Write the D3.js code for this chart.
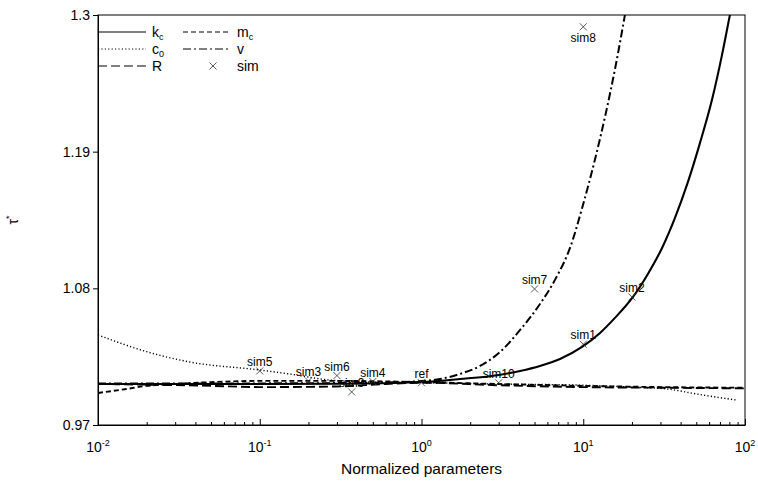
<!DOCTYPE html>
<html>
<head>
<meta charset="utf-8">
<script src="https://cdn.jsdelivr.net/npm/d3@7"></script>
<style>
body { margin: 0; background: #fff; }
text { font-family: "Liberation Sans", Arial, Helvetica, sans-serif; fill: #000; }
</style>
</head>
<body>
<svg id="chart"></svg>
<script>
// curves: [normalized parameter, tau*]
let kc = [[0.01,1.003],[0.1,1.003],[0.3,1.0032],[1,1.0046],[1.73,1.007],[3.01,1.0103],[4.07,1.0135],[5.4,1.0175],[7.18,1.0231],[9.83,1.0328],[12.7,1.0441],[15.7,1.0562],[20.3,1.0731],[25.1,1.0916],[30.7,1.1125],[36.9,1.1367],[44.4,1.1657],[52.7,1.1971],[62.5,1.2317],[72.1,1.2679],[80.7,1.3001],[88,1.324]]
let mc = [[0.01,0.9958],[0.015,0.999],[0.02,1.0015],[0.03,1.003],[0.05,1.0045],[0.1,1.0055],[0.3,1.0055],[1,1.0045],[3,1.003],[10,1.0015],[30,1.0005],[100,1.0]]
let c0 = [[0.01,1.0425],[0.02,1.029],[0.037,1.0207],[0.1,1.0143],[0.154,1.011],[0.27,1.0062],[0.5,1.0045],[1,1.004],[3,1.003],[10,1.002],[20,1.0005],[33,0.999],[50,0.995],[70,0.992],[90,0.990]]
let vv = [[0.01,1.0035],[0.1,1.0035],[0.5,1.004],[1,1.0054],[1.3,1.007],[1.73,1.0111],[2.3,1.0175],[3.06,1.0288],[4.07,1.0465],[5.4,1.0674],[6.79,1.0884],[8.28,1.1125],[9.96,1.1471],[11.8,1.1834],[13.8,1.2212],[15.9,1.2599],[18.1,1.3001],[19.7,1.328]]
let rr = [[0.01,1.003],[0.05,1.0015],[0.1,1.0005],[0.3,1.001],[0.6,1.003],[1,1.004],[3,1.002],[10,1.0005],[30,1.0],[100,0.9995]]

let simNames = ['sim1','sim2','sim3','sim4','sim5','sim6','sim7','sim8','sim9','sim10','ref']
let simX = [10, 20, 0.2, 0.5, 0.1, 0.3, 5, 10, 0.37, 3, 1]
let simY = [1.035, 1.073, 1.0054, 1.005, 1.0135, 1.0098, 1.0795, 1.2905, 0.9966, 1.004, 1.004]

let yTicks = [0.97, 1.08, 1.19, 1.3]
let xTicks = [0.01, 0.1, 1, 10, 100]
let xTickExp = ['-2', '-1', '0', '1', '2']

let width = 758, height = 481
let margin = {top: 15, right: 13, bottom: 56, left: 98}

const svg = d3.select('#chart')
    .attr('width', width)
    .attr('height', height)

let x = d3.scaleLog().domain([0.01, 100]).range([margin.left, width - margin.right])
let y = d3.scaleLinear().domain([0.97, 1.3]).range([height - margin.bottom, margin.top])

svg.append('defs').append('clipPath').attr('id', 'plot')
    .append('rect')
    .attr('x', x.range()[0]).attr('y', y.range()[1])
    .attr('width', x.range()[1] - x.range()[0])
    .attr('height', y.range()[0] - y.range()[1])

// frame
svg.append('rect')
    .attr('x', x.range()[0]).attr('y', y.range()[1])
    .attr('width', x.range()[1] - x.range()[0])
    .attr('height', y.range()[0] - y.range()[1])
    .attr('fill', 'none')
    .attr('stroke', '#000')
    .attr('stroke-width', 1)

// y axis, ticks outward
let yAxis = svg.append('g')
    .attr('transform', `translate(${x.range()[0]},0)`)
    .call(d3.axisLeft(y).tickValues(yTicks).tickSize(5).tickPadding(3).tickFormat(d => String(+d.toFixed(2))))
yAxis.select('.domain').attr('stroke', '#000')
yAxis.selectAll('text').style('font-size', '14px').attr('font-family', null)

// x axis, ticks inward
let xAxis = svg.append('g')
    .attr('transform', `translate(0,${y.range()[0]})`)
    .call(d3.axisBottom(x).tickSizeInner(-3).tickSizeOuter(0).tickFormat(''))
xAxis.selectAll('.tick line')
    .attr('y2', d => xTicks.some(t => Math.abs(t - d) < 1e-9) ? -6 : -3)
xAxis.select('.domain').attr('stroke', '#000')

let xl = svg.append('g')
xTicks.forEach((t, i) => {
    let tx = xl.append('text')
        .attr('x', x(t))
        .attr('y', y.range()[0] + 27)
        .attr('text-anchor', 'middle')
        .style('font-size', '14px')
    tx.append('tspan').text('10')
    tx.append('tspan').attr('dy', -6).style('font-size', '9px').text(xTickExp[i])
})

svg.append('text')
    .attr('x', (x.range()[0] + x.range()[1]) / 2)
    .attr('y', 474)
    .attr('text-anchor', 'middle')
    .style('font-size', '15.5px')
    .text('Normalized parameters')

let ylab = svg.append('text')
    .attr('transform', `translate(18,220) rotate(-90)`)
    .attr('text-anchor', 'middle')
    .style('font-size', '14px')
ylab.append('tspan').text('τ')
ylab.append('tspan').attr('dy', -6).style('font-size', '9px').text('*')

// curves
let line = d3.line()
    .x(d => x(d[0]))
    .y(d => y(d[1]))
    .curve(d3.curveMonotoneX)

let series = [
    {data: c0, dash: '1.2,2.2', w: 1.4},
    {data: rr, dash: '9,4', w: 1.9},
    {data: mc, dash: '5,3', w: 1.9},
    {data: vv, dash: '8,3,2,3', w: 2},
    {data: kc, dash: null, w: 2.1}
]
let curves = svg.append('g').attr('clip-path', 'url(#plot)')
series.forEach(s => {
    curves.append('path')
        .datum(s.data)
        .attr('d', line)
        .attr('fill', 'none')
        .attr('stroke', '#000')
        .attr('stroke-width', s.w)
        .attr('stroke-dasharray', s.dash)
})

// simulation points
let sims = svg.append('g')
simNames.forEach((name, i) => {
    let px = x(simX[i]), py = y(simY[i])
    sims.append('path')
        .attr('d', `M${px-3.5},${py-3.5}L${px+3.5},${py+3.5}M${px-3.5},${py+3.5}L${px+3.5},${py-3.5}`)
        .attr('stroke', '#333')
        .attr('stroke-width', 0.8)
    sims.append('text')
        .attr('x', px)
        .attr('y', name == 'sim8' ? py + 15 : py - 5)
        .attr('text-anchor', 'middle')
        .style('font-size', '12px')
        .text(name)
})

// legend
let legend = [
    {main: 'k', sub: 'c', dash: null, col: 0, row: 0},
    {main: 'm', sub: 'c', dash: '5,3', col: 1, row: 0},
    {main: 'c', sub: '0', dash: '1.2,2.2', col: 0, row: 1},
    {main: 'v', sub: '', dash: '8,3,2,3', col: 1, row: 1},
    {main: 'R', sub: '', dash: '9,4', col: 0, row: 2},
    {main: 'sim', sub: '', dash: 'marker', col: 1, row: 2}
]
let lg = svg.append('g')
legend.forEach(d => {
    let lx = x.range()[0] + d.col * 85
    let ly = 32 + d.row * 17
    if (d.dash == 'marker') {
        let mx = lx + 30
        lg.append('path')
            .attr('d', `M${mx-3.5},${ly-3.5}L${mx+3.5},${ly+3.5}M${mx-3.5},${ly+3.5}L${mx+3.5},${ly-3.5}`)
            .attr('stroke', '#333')
            .attr('stroke-width', 0.8)
    } else {
        lg.append('line')
            .attr('x1', lx).attr('x2', lx + 48)
            .attr('y1', ly).attr('y2', ly)
            .attr('stroke', '#000')
            .attr('stroke-width', 1)
            .attr('stroke-dasharray', d.dash)
    }
    let t = lg.append('text')
        .attr('x', lx + 54)
        .attr('y', ly + 5)
        .style('font-size', '14px')
    t.append('tspan').text(d.main)
    if (d.sub) t.append('tspan').attr('dy', 3).style('font-size', '9px').text(d.sub)
})
</script>
</body>
</html>
